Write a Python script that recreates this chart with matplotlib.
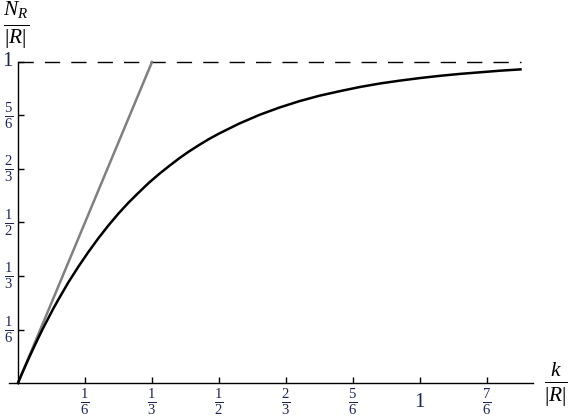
import matplotlib
matplotlib.use("Agg")
import matplotlib.pyplot as plt

plt.rcParams['mathtext.fontset'] = 'custom'
plt.rcParams['mathtext.rm'] = 'Liberation Serif'
plt.rcParams['mathtext.it'] = 'Liberation Serif:italic'
plt.rcParams['font.family'] = 'Liberation Serif'

# curve values
k_vals = [0, 0.0125, 0.025, 0.0375, 0.05, 0.0625, 0.075, 0.0875, 0.10, 0.125,
          0.15, 0.175, 0.20, 0.225, 0.25, 0.275, 0.30, 0.325, 0.35, 0.375,
          0.40, 0.425, 0.45, 0.475, 0.50, 0.55, 0.60, 0.65, 0.70, 0.75, 0.80,
          0.85, 0.90, 0.95, 1.00, 1.05, 1.10, 1.15, 1.20, 1.25]
n_vals = [0, 0.037, 0.072, 0.106, 0.139, 0.171, 0.201, 0.231, 0.259, 0.313,
          0.362, 0.408, 0.451, 0.491, 0.528, 0.562, 0.593, 0.623, 0.650, 0.675,
          0.699, 0.721, 0.741, 0.760, 0.777, 0.808, 0.835, 0.858, 0.878, 0.895,
          0.909, 0.922, 0.933, 0.942, 0.950, 0.957, 0.963, 0.968, 0.973, 0.977]

# gray line, dashed limit
line_k = [0, 1/3]
line_n = [0, 1]
limit_k = [0, 1.25]
limit_n = [1, 1]

xticks = [1/6, 1/3, 1/2, 2/3, 5/6, 1, 7/6]
xlabels = [r'$\frac{1}{6}$', r'$\frac{1}{3}$', r'$\frac{1}{2}$', r'$\frac{2}{3}$',
           r'$\frac{5}{6}$', r'$\mathrm{1}$', r'$\frac{7}{6}$']
yticks = [1/6, 1/3, 1/2, 2/3, 5/6, 1]
ylabels = [r'$\frac{1}{6}$', r'$\frac{1}{3}$', r'$\frac{1}{2}$', r'$\frac{2}{3}$',
           r'$\frac{5}{6}$', r'$\mathrm{1}$']

fig = plt.figure(figsize=(5.76, 4.19), dpi=100)
ax = fig.add_axes([0, 0, 1, 1])
ax.set_xlim(-18/402, 558/402)
ax.set_ylim(-36/321, 383/321)

ax.plot(limit_k, limit_n, color='black', lw=1.0, dashes=(11, 8))
ax.plot(line_k, line_n, color='#808080', lw=1.8)
ax.plot(k_vals, n_vals, color='black', lw=1.8)

ax.spines['top'].set_visible(False)
ax.spines['right'].set_visible(False)
ax.spines['left'].set_position(('data', 0))
ax.spines['bottom'].set_position(('data', 0))
ax.spines['left'].set_bounds(0, 1)
ax.spines['bottom'].set_bounds(-0.022, 1.281)
for s in ['left', 'bottom']:
    ax.spines[s].set_linewidth(1.0)

tc = '#1c2450'
ax.set_xticks(xticks)
ax.set_xticklabels([''] * len(xticks))
ax.set_yticks(yticks)
ax.set_yticklabels([''] * len(yticks))
ax.tick_params(direction='in', length=4, width=1)

# tick labels, centred like the reference
for x, lab in zip(xticks, xlabels):
    ax.text(x, -19/321, lab, fontsize=15, color=tc, ha='center', va='center')
for y, lab in zip(yticks, ylabels):
    ax.text(-5/402, y, lab, fontsize=15, color=tc, ha='right', va='center')

fig.text(3/576, 1 - 25/419, r'$\frac{N_R}{|R|}$', fontsize=22, ha='left', va='center')
fig.text(544/576, 1 - 384/419, r'$\frac{k}{|R|}$', fontsize=22, ha='left', va='center')

fig.savefig('out.png', dpi=100)
